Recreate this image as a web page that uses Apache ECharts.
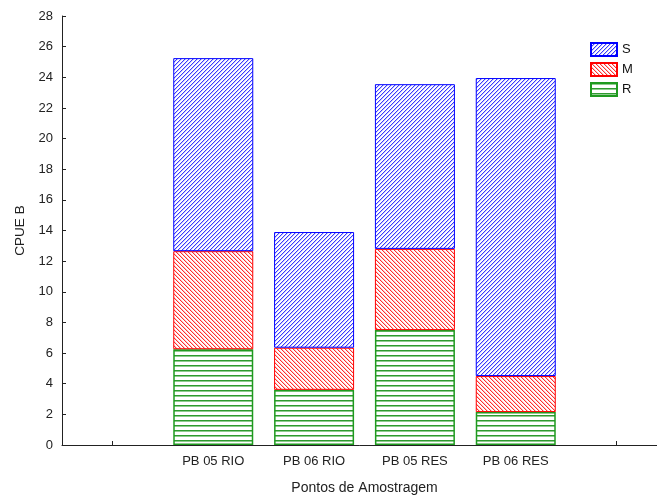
<!DOCTYPE html>
<html>
<head>
<meta charset="utf-8">
<script src="https://cdn.jsdelivr.net/npm/echarts@6/dist/echarts.min.js"></script>
<style>
html,body{margin:0;padding:0;background:#fff;}
#chart{width:657px;height:497px;}
</style>
</head>
<body>
<div id="chart"></div>
<script>
// ---- data ----
const categories = ['', 'PB 05 RIO', 'PB 06 RIO', 'PB 05 RES', 'PB 06 RES', ''];
const seriesR = [null, 6.25, 3.6, 7.5, 2.15, null];
const seriesM = [null, 6.4, 2.75, 5.3, 2.35, null];
const seriesS = [null, 12.6, 7.55, 10.75, 19.45, null];
const yTicks = [0, 28, 2];

// ---- patterns ----
function hatch(kind, color, soft) {
  const c = document.createElement('canvas');
  const ctx = c.getContext('2d');
  if (kind === 'h') {
    c.width = 4; c.height = 5;
    ctx.fillStyle = '#fff'; ctx.fillRect(0, 0, 4, 5);
    ctx.fillStyle = color; ctx.fillRect(0, 0, 4, 1);
    ctx.fillStyle = soft; ctx.fillRect(0, 1, 4, 1);
  } else {
    c.width = 4; c.height = 4;
    ctx.fillStyle = '#fff'; ctx.fillRect(0, 0, 4, 4);
    for (let i = 0; i < 4; i++) {
      const y = kind === '/' ? 3 - i : i;
      ctx.fillStyle = color;
      ctx.fillRect(i, y, 1, 1);
      ctx.fillStyle = soft;
      ctx.fillRect((i + 1) % 4, y, 1, 1);
    }
  }
  return { image: c, repeat: 'repeat' };
}

const chart = echarts.init(document.getElementById('chart'), null, { renderer: 'canvas' });
const font = 'Liberation Sans, Arial, sans-serif';

chart.setOption({
  animation: false,
  backgroundColor: '#fff',
  grid: { left: 62, top: 16, right: -10, bottom: 52, containLabel: false, outerBoundsMode: 'none' },
  legend: {
    data: ['S', 'M', 'R'],
    orient: 'vertical',
    left: 585, top: 37,
    itemWidth: 26, itemHeight: 13, itemGap: 5,
    textStyle: { fontFamily: font, fontSize: 13, color: '#111' },
    icon: 'rect'
  },
  xAxis: {
    type: 'category',
    data: categories,
    boundaryGap: true,
    name: 'Pontos de Amostragem',
    nameLocation: 'middle',
    nameGap: 36,
    nameTextStyle: { fontFamily: font, fontSize: 14, color: '#222' },
    axisLine: { show: true, lineStyle: { color: '#222', width: 1 } },
    axisTick: { show: true, inside: true, length: 4, alignWithLabel: true, interval: 0, lineStyle: { color: '#222' } },
    axisLabel: { fontFamily: font, fontSize: 13, color: '#222', margin: 10, interval: 0 },
    splitLine: { show: false }
  },
  yAxis: {
    type: 'value',
    min: yTicks[0], max: yTicks[1], interval: yTicks[2],
    name: 'CPUE B',
    nameLocation: 'middle',
    nameGap: 32,
    nameTextStyle: { fontFamily: font, fontSize: 13.5, color: '#222' },
    axisLine: { show: true, onZero: false, lineStyle: { color: '#222', width: 1 } },
    axisTick: { show: true, inside: true, length: 4, lineStyle: { color: '#222' } },
    axisLabel: { fontFamily: font, fontSize: 13, color: '#222', margin: 9 },
    splitLine: { show: false }
  },
  series: [
    {
      name: 'R', type: 'bar', stack: 'a', barWidth: 80,
      data: seriesR,
      itemStyle: { color: hatch('h', '#2f9a2f', '#8fcc8f'), borderColor: '#1f9a1f', borderWidth: 1.5 }
    },
    {
      name: 'M', type: 'bar', stack: 'a', barWidth: 80,
      data: seriesM,
      itemStyle: { color: hatch('\\', '#ff3030', '#ffc4c4'), borderColor: '#ff0000', borderWidth: 1 }
    },
    {
      name: 'S', type: 'bar', stack: 'a', barWidth: 80,
      data: seriesS,
      itemStyle: { color: hatch('/', '#3a3aff', '#c8c8ff'), borderColor: '#0000ff', borderWidth: 1 }
    }
  ]
});
</script>
</body>
</html>
